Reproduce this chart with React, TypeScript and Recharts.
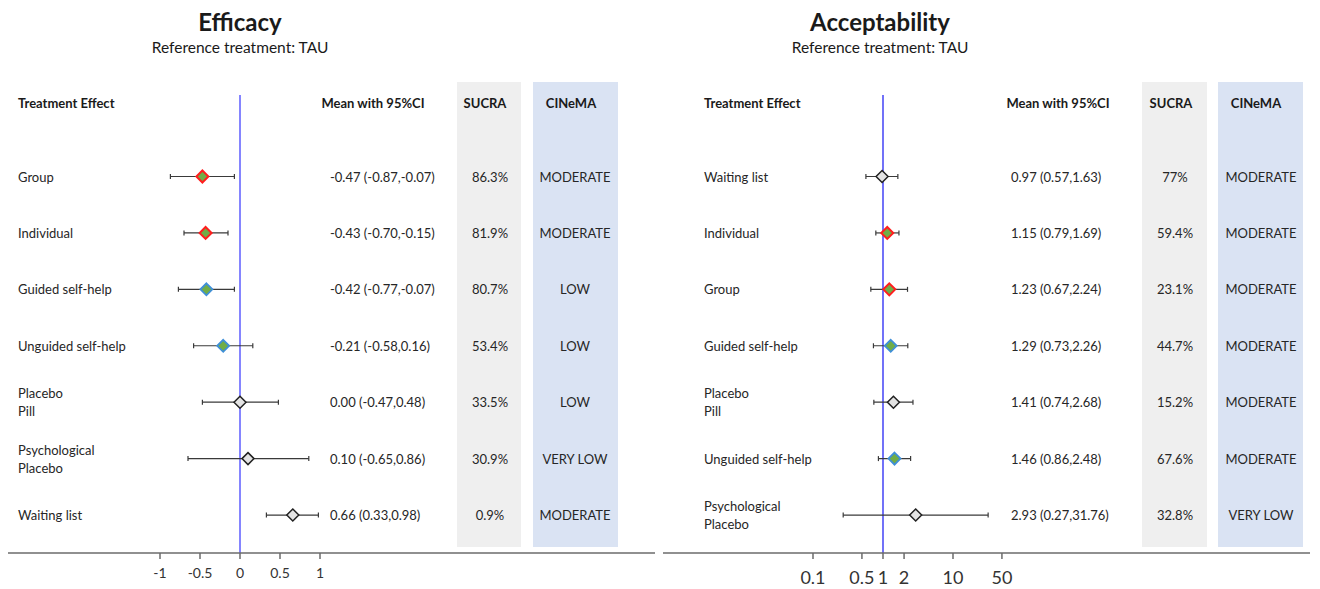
import React from "react";
import { ScatterChart, Scatter, XAxis, YAxis, ErrorBar, ReferenceLine } from "recharts";

const FONT = "Lato, 'Open Sans', 'DejaVu Sans', sans-serif";

// ---------- Efficacy data ----------
const effTreatments = ["Group", "Individual", "Guided self-help", "Unguided self-help", "Placebo\nPill", "Psychological\nPlacebo", "Waiting list"];
const effMean = [-0.47, -0.43, -0.42, -0.21, 0.0, 0.1, 0.66];
const effLow = [-0.87, -0.7, -0.77, -0.58, -0.47, -0.65, 0.33];
const effHigh = [-0.07, -0.15, -0.07, 0.16, 0.48, 0.86, 0.98];
const effSucra = ["86.3%", "81.9%", "80.7%", "53.4%", "33.5%", "30.9%", "0.9%"];
const effCinema = ["MODERATE", "MODERATE", "LOW", "LOW", "LOW", "VERY LOW", "MODERATE"];
const effKind = ["face", "face", "self", "self", "control", "control", "control"];
const effTicks = [-1, -0.5, 0, 0.5, 1];

// ---------- Acceptability data ----------
const accTreatments = ["Waiting list", "Individual", "Group", "Guided self-help", "Placebo\nPill", "Unguided self-help", "Psychological\nPlacebo"];
const accMean = [0.97, 1.15, 1.23, 1.29, 1.41, 1.46, 2.93];
const accLow = [0.57, 0.79, 0.67, 0.73, 0.74, 0.86, 0.27];
const accHigh = [1.63, 1.69, 2.24, 2.26, 2.68, 2.48, 31.76];
const accSucra = ["77%", "59.4%", "23.1%", "44.7%", "15.2%", "67.6%", "32.8%"];
const accCinema = ["MODERATE", "MODERATE", "MODERATE", "MODERATE", "MODERATE", "MODERATE", "VERY LOW"];
const accKind = ["control", "face", "face", "self", "control", "self", "control"];
const accTicks = [0.1, 0.5, 1, 2, 10, 50];

function buildRows(names: string[], mean: number[], low: number[], high: number[], sucra: string[], cinema: string[], kind: string[]) {
  return names.map((n, i) => ({
    name: n,
    row: i,
    mean: mean[i],
    low: low[i],
    high: high[i],
    err: [mean[i] - low[i], high[i] - mean[i]],
    ci: `${mean[i].toFixed(2)} (${low[i].toFixed(2)},${high[i].toFixed(2)})`,
    sucra: sucra[i],
    cinema: cinema[i],
    kind: kind[i],
  }));
}

const effRows = buildRows(effTreatments, effMean, effLow, effHigh, effSucra, effCinema, effKind);
const accRows = buildRows(accTreatments, accMean, accLow, accHigh, accSucra, accCinema, accKind);

const MARKER: Record<string, { fill: string; stroke: string; sw: number }> = {
  face: { fill: "#70AD47", stroke: "#FF1E1E", sw: 2 },
  self: { fill: "#70AD47", stroke: "#3F8FD8", sw: 1.8 },
  control: { fill: "#E4E4E4", stroke: "#222222", sw: 1.5 },
};

const Diamond = (props: any) => {
  const { cx, cy, payload } = props;
  const m = MARKER[payload.kind];
  const r = 6;
  return (
    <polygon
      points={`${cx},${cy - r} ${cx + r},${cy} ${cx},${cy + r} ${cx - r},${cy}`}
      fill={m.fill}
      stroke={m.stroke}
      strokeWidth={m.sw}
      strokeLinejoin="miter"
    />
  );
};

type Layout = {
  width: number;
  marginRight: number;
  titleX: number;
  labelX: number;
  ciX: number;
  sucraX: number;
  cinemaX: number;
  headCiX: number;
  headSucraX: number;
  headCinemaX: number;
  sucraBg: [number, number];
  cinemaBg: [number, number];
};

const makeRowText = (L: Layout) => (props: any) => {
  const { cy, payload } = props;
  const lines: string[] = payload.name.split("\n");
  const off = (lines.length - 1) * 9;
  return (
    <g fontFamily={FONT} fontSize={13} fill="#262626">
      {lines.map((l, i) => (
        <text key={i} x={L.labelX} y={cy - off + i * 18} dominantBaseline="central">
          {l}
        </text>
      ))}
      <text x={L.ciX} y={cy} dominantBaseline="central">{payload.ci}</text>
      <text x={L.sucraX} y={cy} dominantBaseline="central" textAnchor="middle">{payload.sucra}</text>
      <text x={L.cinemaX} y={cy} dominantBaseline="central" textAnchor="middle">{payload.cinema}</text>
    </g>
  );
};

const Y_DOMAIN: [number, number] = [-1.4445, 6.673];
const HEIGHT = 581;
const AXIS_H = 36;

const Abs = ({ x, y, children, style }: any) => (
  <div
    style={{
      position: "absolute",
      left: x,
      top: y,
      transform: "translate(-50%, -50%)",
      whiteSpace: "nowrap",
      fontFamily: FONT,
      color: "#1a1a1a",
      ...style,
    }}
  >
    {children}
  </div>
);

function Panel(props: {
  L: Layout;
  title: string;
  rows: any[];
  domain: [number, number];
  ticks: number[];
  log?: boolean;
  refX: number;
  refColor: string;
  refWidth: number;
  tickFont: number;
  tickMargin: number;
  left: number;
}) {
  const { L, title, rows, domain, ticks, log, refX, refColor, refWidth, tickFont, tickMargin, left } = props;
  const headStyle = { fontSize: 13, fontWeight: 700 };
  return (
    <div style={{ position: "absolute", left, top: 0, width: L.width, height: HEIGHT }}>
      <div style={{ position: "absolute", left: L.sucraBg[0], top: 74, width: L.sucraBg[1] - L.sucraBg[0], height: 465, background: "#EFEFEF" }} />
      <div style={{ position: "absolute", left: L.cinemaBg[0], top: 74, width: L.cinemaBg[1] - L.cinemaBg[0], height: 465, background: "#DAE3F3" }} />
      <Abs x={L.titleX} y={13} style={{ fontSize: 24, fontWeight: 700 }}>{title}</Abs>
      <Abs x={L.titleX} y={39} style={{ fontSize: 15.5 }}>Reference treatment: TAU</Abs>
      <div style={{ position: "absolute", left: L.labelX, top: 95, transform: "translateY(-50%)", fontFamily: FONT, whiteSpace: "nowrap", color: "#1a1a1a", ...headStyle }}>
        Treatment Effect
      </div>
      <Abs x={L.headCiX} y={95} style={headStyle}>Mean with 95%CI</Abs>
      <Abs x={L.headSucraX} y={95} style={headStyle}>SUCRA</Abs>
      <Abs x={L.headCinemaX} y={95} style={headStyle}>CINeMA</Abs>
      <div style={{ position: "absolute", left: 0, top: 0 }}>
        <ScatterChart width={L.width} height={HEIGHT} margin={{ top: 87, right: L.marginRight, left: 0, bottom: 0 }}>
          <XAxis
            type="number"
            dataKey="mean"
            scale={log ? "log" : "linear"}
            domain={domain}
            allowDataOverflow
            ticks={ticks}
            interval={0}
            height={AXIS_H}
            tickFormatter={(v: number) => String(v)}
            tick={{ fontSize: tickFont, fill: "#333", fontFamily: FONT }}
            tickMargin={tickMargin}
            axisLine={{ stroke: "#6b6b6b", strokeWidth: 1.5 }}
            tickLine={{ stroke: "#6b6b6b", strokeWidth: 1.5 }}
          />
          <YAxis type="number" dataKey="row" domain={Y_DOMAIN} reversed hide allowDataOverflow />
          <ReferenceLine x={refX} stroke={refColor} strokeWidth={refWidth} />
          <Scatter data={rows} isAnimationActive={false} shape={makeRowText(L)} />
          <Scatter data={rows} isAnimationActive={false} shape={Diamond}>
            <ErrorBar dataKey="err" direction="x" width={2.5} stroke="#3a3a3a" strokeWidth={1.2} />
          </Scatter>
        </ScatterChart>
      </div>
    </div>
  );
}

const LEFT_L: Layout = {
  width: 655,
  marginRight: 8,
  titleX: 232,
  labelX: 10,
  ciX: 322,
  sucraX: 482,
  cinemaX: 567,
  headCiX: 365,
  headSucraX: 477,
  headCinemaX: 563,
  sucraBg: [449, 513],
  cinemaBg: [525, 610],
};

const RIGHT_L: Layout = {
  width: 649,
  marginRight: 2,
  titleX: 217,
  labelX: 41,
  ciX: 348,
  sucraX: 512,
  cinemaX: 598,
  headCiX: 395,
  headSucraX: 508,
  headCinemaX: 593,
  sucraBg: [479, 544],
  cinemaBg: [555, 640],
};

export default function App() {
  return (
    <div style={{ position: "relative", width: 1304, height: HEIGHT }}>
      <Panel
        L={LEFT_L}
        title="Efficacy"
        rows={effRows}
        domain={[-2.9, 5.1875]}
        ticks={effTicks}
        refX={0}
        refColor="#8585FF"
        refWidth={2}
        tickFont={14}
        tickMargin={9}
        left={0}
      />
      <Panel
        L={RIGHT_L}
        title="Acceptability"
        rows={accRows}
        domain={[7.197e-4, 1.2589e6]}
        ticks={accTicks}
        log
        refX={1}
        refColor="#3535F5"
        refWidth={1.4}
        tickFont={18}
        tickMargin={12}
        left={655}
      />
    </div>
  );
}
